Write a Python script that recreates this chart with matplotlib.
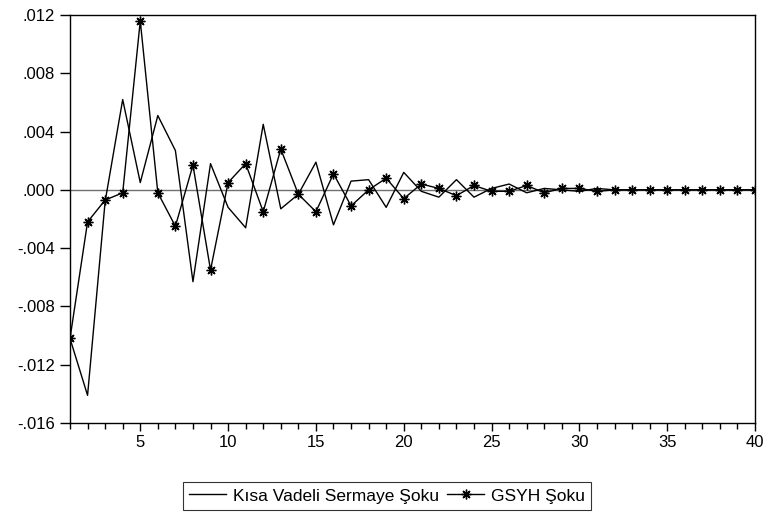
import matplotlib
matplotlib.use("Agg")
import matplotlib.pyplot as plt
import numpy as np
from matplotlib.ticker import FuncFormatter, MultipleLocator

plt.rcParams['font.family'] = ['Liberation Sans', 'DejaVu Sans']

periods = np.arange(1, 41)

# Kısa Vadeli Sermaye Şoku
sermaye = [-0.0102, -0.0141, -0.0008, 0.0062, 0.0005, 0.0051, 0.0027, -0.0063,
           0.0018, -0.0012, -0.0026, 0.0045, -0.0013, -0.0003, 0.0019, -0.0024,
           0.0006, 0.0007, -0.0012, 0.0012, -0.0001, -0.0005, 0.0007, -0.0005,
           0.0001, 0.0004, -0.0002, 0.0001, 0.0000, -0.0001, 0.0001, 0.0000,
           0.0000, 0.0000, 0.0000, 0.0000, 0.0000, 0.0000, 0.0000, 0.0000]

# GSYH Şoku
gsyh = [-0.0102, -0.0022, -0.0007, -0.0002, 0.0116, -0.0002, -0.0025, 0.0017,
        -0.0055, 0.0005, 0.0018, -0.0015, 0.0028, -0.0003, -0.0015, 0.0011,
        -0.0011, 0.0000, 0.0008, -0.0006, 0.0004, 0.0001, -0.0004, 0.0003,
        -0.0001, -0.0001, 0.0003, -0.0002, 0.0001, 0.0001, -0.0001, 0.0000,
        0.0000, 0.0000, 0.0000, 0.0000, 0.0000, 0.0000, 0.0000, 0.0000]

labels = ["Kısa Vadeli Sermaye Şoku", "GSYH Şoku"]

fig = plt.figure(figsize=(7.65, 5.18), dpi=100)
ax = fig.add_axes([0.0915, 0.1834, 0.8955, 0.7876])

ax.axhline(0, color="#707070", lw=1.0, zorder=1)
ax.plot(periods, sermaye, color="black", lw=1.0, label=labels[0], zorder=2)
ax.plot(periods, gsyh, color="black", lw=1.0, marker=(8, 2, 0), markersize=7,
        markeredgewidth=1.0, label=labels[1], zorder=3)

ax.set_xlim(1, 40)
ax.set_ylim(-0.016, 0.012)
ax.xaxis.set_major_locator(MultipleLocator(5))
ax.xaxis.set_minor_locator(MultipleLocator(1))
ax.yaxis.set_major_locator(MultipleLocator(0.004))

def fmt(v, pos):
    s = "%.3f" % v
    if s.startswith("-0"):
        return "-" + s[2:]
    if s.startswith("0"):
        return s[1:]
    return s

ax.yaxis.set_major_formatter(FuncFormatter(fmt))
ax.tick_params(axis="both", which="major", direction="out", labelsize=12,
               width=1.0, color="black")
ax.tick_params(axis="x", which="major", length=6, pad=3)
ax.tick_params(axis="x", which="minor", length=4, width=1.0)
ax.tick_params(axis="y", which="major", length=7, pad=4)
for sp in ax.spines.values():
    sp.set_linewidth(1.0)

leg = fig.legend(loc="center", bbox_to_anchor=(0.506, 0.0425), ncol=2,
                 fontsize=12.5, frameon=True, fancybox=False, handlelength=2.1,
                 columnspacing=0.5, handletextpad=0.4, borderpad=0.35,
                 borderaxespad=0)
leg.get_frame().set_edgecolor("black")
leg.get_frame().set_linewidth(0.8)

fig.savefig("out.png", dpi=100)
